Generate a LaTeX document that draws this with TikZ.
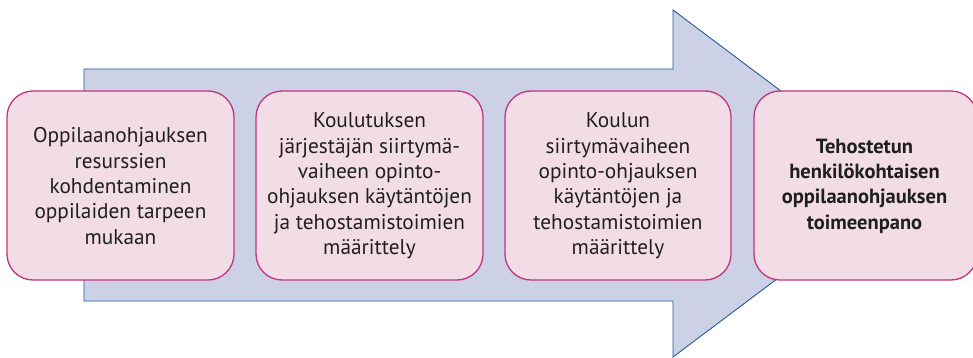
\documentclass[tikz,border=0pt]{standalone}
\usepackage{fontspec}
\setmainfont{PT Sans}
\definecolor{arrowfill}{HTML}{CCD1E6}
\definecolor{arrowline}{HTML}{1F5C9E}
\definecolor{boxfill}{HTML}{F2DDE6}
\definecolor{boxline}{HTML}{C0357E}
\tikzset{
  stepbox/.style={draw=boxline, line width=1.3pt, fill=boxfill, rounded corners=26pt},
  steptext/.style={align=center, font=\fontsize{21.3}{25.4}\selectfont, text=black!88},
}
\begin{document}
\begin{tikzpicture}[x=1pt,y=-1pt]
\useasboundingbox (0,0) rectangle (973,358);
\begin{scope}
\clip (0,0) rectangle (973,358);
\draw[arrowline, fill=arrowfill, line width=0.9pt, line join=miter]
  (84,69) -- (673,69) -- (673,10) -- (904,183.5) -- (673,357) -- (673,301) -- (84,301) -- cycle;
\draw[stepbox] (7,91) rectangle (234,280);
\draw[stepbox] (256,91) rectangle (483,280);
\draw[stepbox] (505,91) rectangle (731,280);
\draw[stepbox] (754,91) rectangle (977,280);
\end{scope}
\node[steptext] (t1) at (120.5,186) {Oppilaanohjauksen\\resurssien\\kohdentaminen\\oppilaiden tarpeen\\mukaan};
\node[steptext] (t2) at (369.5,186) {Koulutuksen\\järjestäjän siirtymä-\\vaiheen opinto-\\ohjauksen käytäntöjen\\ja tehostamistoimien\\määrittely};
\node[steptext] (t3) at (618,186) {Koulun\\siirtymävaiheen\\opinto-ohjauksen\\käytäntöjen ja\\tehostamistoimien\\määrittely};
\node[steptext, font=\fontsize{20.5}{25.4}\selectfont\bfseries] (t4) at (864.5,186) {Tehostetun\\henkilökohtaisen\\oppilaanohjauksen\\toimeenpano};
\end{tikzpicture}
\end{document}
